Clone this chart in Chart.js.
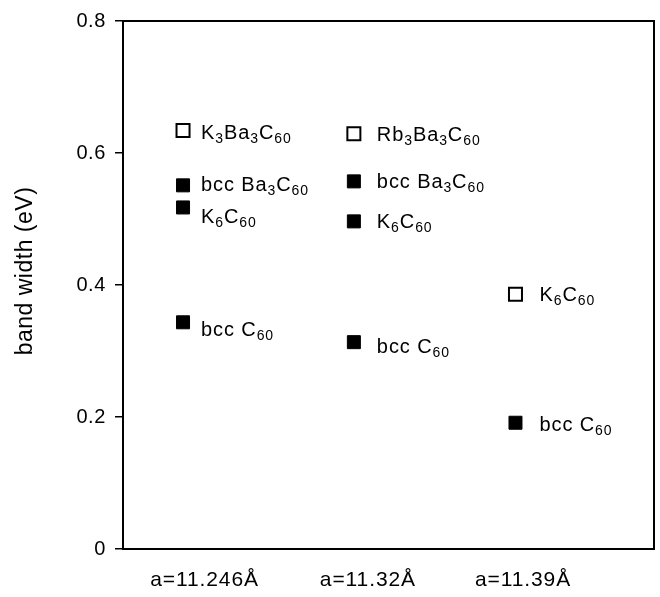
<!DOCTYPE html>
<html>
<head>
<meta charset="utf-8">
<script src="https://cdn.jsdelivr.net/npm/chart.js@4/dist/chart.umd.min.js"></script>
<style>
html,body{margin:0;padding:0;background:#fff;}
canvas{display:block;}
</style>
</head>
<body>
<canvas id="c" width="660" height="597"></canvas>
<script>
// ---- data ----
const categories = ['a=11.246\u00C5', 'a=11.32\u00C5', 'a=11.39\u00C5'];
const latticeA = [11.246, 11.32, 11.39];
const yTickValues = [0, 0.2, 0.4, 0.6, 0.8];
const yTitle = 'band width (eV)';

// open (hollow) squares
const hollowA = [11.246, 11.32, 11.39];
const hollowWidth = [0.634, 0.629, 0.386];
const hollowNames = ['K_3Ba_3C_60', 'Rb_3Ba_3C_60', 'K_6C_60'];

// filled squares
const filledA = [11.246, 11.246, 11.246, 11.32, 11.32, 11.32, 11.39];
const filledWidth = [0.551, 0.5175, 0.3435, 0.557, 0.4964, 0.3134, 0.1913];
const filledNames = ['bcc Ba_3C_60', 'K_6C_60', 'bcc C_60', 'bcc Ba_3C_60', 'K_6C_60', 'bcc C_60', 'bcc C_60'];

// ---- label placement (style only) ----
const hollowLabelDy = [8.7, 7.5, 7];
const filledLabelDy = [5.3, 15.5, 14, 6.5, 6.5, 11, 8];
const columnLabelDx = [18, 23, 24];
const categoryLabelDx = [21.5, 14, 7.5];

const FONT = '"Liberation Sans", Arial, Helvetica, sans-serif';

function drawSubText(ctx, str, x, y) {
  const parts = str.split(/(_\d+)/).filter(s => s.length);
  let cx = x;
  for (const p of parts) {
    if (p[0] === '_') {
      ctx.font = '14px ' + FONT;
      ctx.fillText(p.slice(1), cx, y + 4);
      cx += ctx.measureText(p.slice(1)).width;
    } else {
      ctx.font = '20px ' + FONT;
      ctx.fillText(p, cx, y);
      cx += ctx.measureText(p).width;
    }
  }
}

const labelPlugin = {
  id: 'pointLabels',
  beforeDraw(chart) {
    chart.ctx.letterSpacing = '0.6px';
  },
  afterDatasetsDraw(chart) {
    const ctx = chart.ctx;
    ctx.save();
    ctx.fillStyle = '#000';
    ctx.textBaseline = 'alphabetic';
    ctx.textAlign = 'left';
    ctx.letterSpacing = '0.9px';
    const sets = [
      {ds: 0, names: hollowNames, xs: hollowA, dy: hollowLabelDy},
      {ds: 1, names: filledNames, xs: filledA, dy: filledLabelDy}
    ];
    for (const s of sets) {
      const meta = chart.getDatasetMeta(s.ds);
      meta.data.forEach((pt, i) => {
        const col = latticeA.indexOf(s.xs[i]);
        drawSubText(ctx, s.names[i], pt.x + columnLabelDx[col], pt.y + s.dy[i]);
      });
    }
    // category labels under the x axis
    const xs = chart.scales.x;
    ctx.font = '21px ' + FONT;
    ctx.textAlign = 'center';
    ctx.textBaseline = 'middle';
    ctx.letterSpacing = '0.9px';
    categories.forEach((c, i) => {
      ctx.fillText(c, xs.getPixelForValue(latticeA[i]) + categoryLabelDx[i], 580);
    });
    // frame
    const a = chart.chartArea;
    ctx.strokeStyle = '#000';
    ctx.lineWidth = 2;
    ctx.strokeRect(a.left, a.top, a.right - a.left, a.bottom - a.top);
    // y title
    ctx.translate(26, 271);
    ctx.rotate(-Math.PI / 2);
    ctx.font = '23px ' + FONT;
    ctx.letterSpacing = '0.5px';
    ctx.fillText(yTitle, 0, 0);
    ctx.restore();
    ctx.letterSpacing = '0px';
  }
};

new Chart(document.getElementById('c'), {
  type: 'scatter',
  data: {
    datasets: [
      {
        data: hollowA.map((a, i) => ({x: a, y: hollowWidth[i]})),
        pointStyle: 'rect',
        pointRadius: 9.2,
        backgroundColor: '#fff',
        borderColor: '#000',
        borderWidth: 2
      },
      {
        data: filledA.map((a, i) => ({x: a, y: filledWidth[i]})),
        pointStyle: 'rect',
        pointRadius: 9.2,
        backgroundColor: '#000',
        borderColor: '#000',
        borderWidth: 1
      }
    ]
  },
  options: {
    responsive: false,
    animation: false,
    events: [],
    layout: {autoPadding: false, padding: {top: 18, right: 6, left: 0, bottom: 0}},
    plugins: {legend: {display: false}, tooltip: {enabled: false}},
    scales: {
      x: {
        type: 'linear',
        min: 11.22,
        max: 11.45,
        afterBuildTicks(scale) { scale.ticks = latticeA.map(v => ({value: v})); },
        afterFit(scale) { scale.height = 48; },
        grid: {display: false, drawTicks: false},
        border: {display: false},
        ticks: {display: false}
      },
      y: {
        min: 0,
        max: 0.8,
        afterBuildTicks(scale) { scale.ticks = yTickValues.map(v => ({value: v})); },
        afterFit(scale) { scale.width = 123; },
        grid: {drawOnChartArea: false, drawTicks: true, tickLength: 8, color: '#000', tickColor: '#000', lineWidth: 1.5},
        border: {display: false},
        ticks: {
          color: '#000',
          font: {family: FONT, size: 20},
          padding: 9,
          callback(v) { return v === 0 ? '0' : v.toFixed(1); }
        }
      }
    }
  },
  plugins: [labelPlugin]
});
</script>
</body>
</html>
